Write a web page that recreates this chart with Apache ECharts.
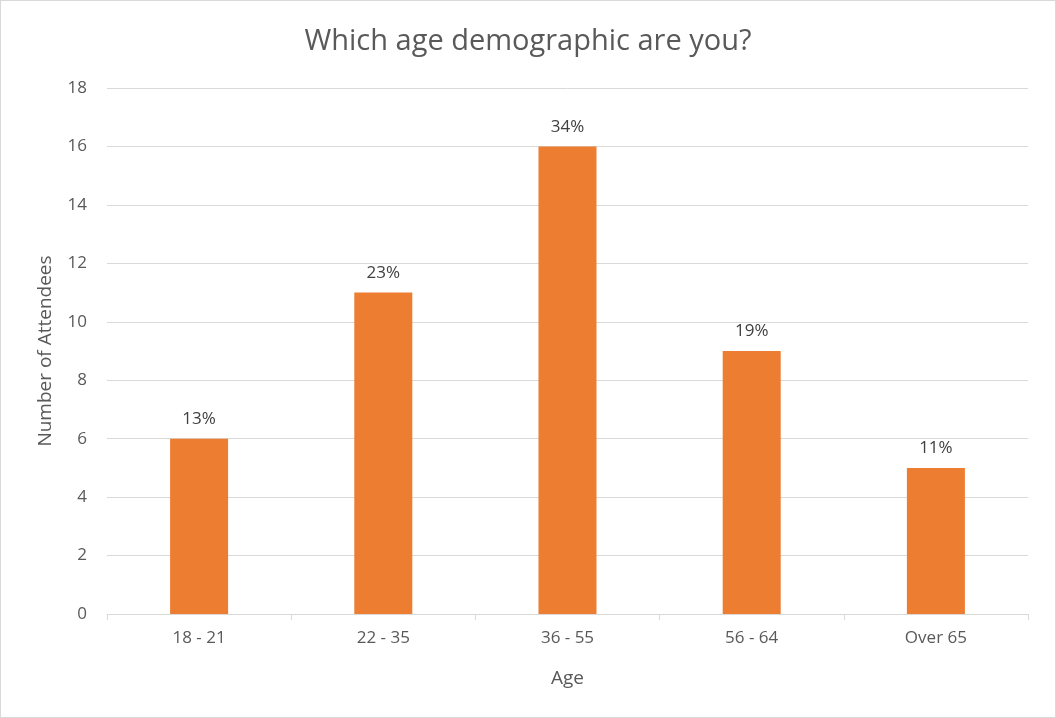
<!DOCTYPE html>
<html>
<head>
<meta charset="utf-8">
<script src="https://cdn.jsdelivr.net/npm/echarts@6/dist/echarts.min.js"></script>
<style>
  html, body { margin: 0; padding: 0; background: #fff; }
  #chart {
    width: 1054px;
    height: 716px;
    border: 1px solid #d9d9d9;
  }
</style>
</head>
<body>
<div id="chart"></div>
<script>
const categories = ['18 - 21', '22 - 35', '36 - 55', '56 - 64', 'Over 65']
const attendees = [6, 11, 16, 9, 5]
const percentLabels = ['13%', '23%', '34%', '19%', '11%']

const chart = echarts.init(document.getElementById('chart'))

const textColor = '#595959'
const font = '"Open Sans", "Noto Sans", sans-serif'

const option = {
  backgroundColor: '#fff',
  animation: false,
  title: {
    text: 'Which age demographic are you?',
    left: 'center',
    top: 21,
    textStyle: { color: textColor, fontSize: 29, fontWeight: 'normal', fontFamily: font }
  },
  grid: { left: 106, right: 27, top: 87, bottom: 103 },
  xAxis: {
    type: 'category',
    data: categories,
    name: 'Age',
    nameLocation: 'middle',
    nameGap: 55,
    nameTextStyle: { color: textColor, fontSize: 19, fontFamily: font },
    axisLine: { lineStyle: { color: '#d9d9d9' } },
    axisTick: { show: true, length: 6, alignWithLabel: false, lineStyle: { color: '#d9d9d9' } },
    axisLabel: { color: textColor, fontSize: 17, margin: 16, fontFamily: font }
  },
  yAxis: {
    type: 'value',
    min: 0,
    max: 18,
    interval: 2,
    name: 'Number of Attendees',
    nameLocation: 'middle',
    nameGap: 52,
    nameTextStyle: { color: textColor, fontSize: 19, fontFamily: font },
    axisLine: { show: false },
    axisTick: { show: false },
    axisLabel: { color: textColor, fontSize: 17, margin: 20, fontFamily: font },
    splitLine: { lineStyle: { color: '#d9d9d9' } }
  },
  series: [
    {
      type: 'bar',
      data: attendees,
      barWidth: '31.5%',
      itemStyle: { color: '#ED7D31' },
      label: {
        show: true,
        position: 'top',
        distance: 11,
        color: '#404040',
        fontSize: 17,
        fontFamily: font,
        formatter: (p) => percentLabels[p.dataIndex]
      }
    }
  ]
}

chart.setOption(option)
</script>
</body>
</html>
